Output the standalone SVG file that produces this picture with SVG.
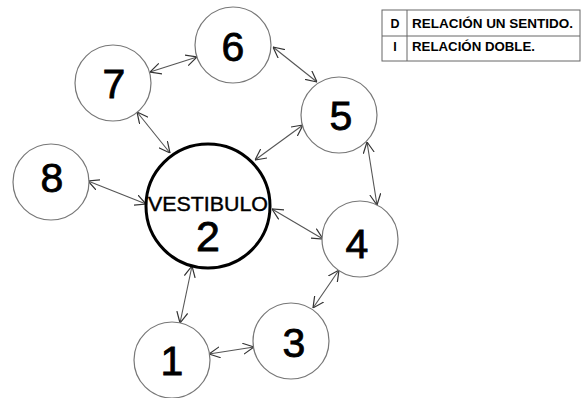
<svg xmlns="http://www.w3.org/2000/svg" width="581" height="398" viewBox="0 0 581 398">
<style>
.n{fill:#fff;stroke:#777;stroke-width:1.2}
.m{fill:#fff;stroke:#000;stroke-width:3}
.d{font-family:"Liberation Sans",Arial,sans-serif;font-size:41px;fill:#000;stroke:#000;stroke-width:0.8;text-anchor:middle}
.c line{stroke:#555;stroke-width:1.1;marker-start:url(#a);marker-end:url(#a)}
.l{font-family:"Liberation Sans",Arial,sans-serif;font-size:12.5px;font-weight:bold;fill:#000}
</style>
<defs>
<marker id="a" viewBox="0 0 11 12" refX="11" refY="6" markerWidth="11" markerHeight="12" markerUnits="userSpaceOnUse" orient="auto-start-reverse">
<path d="M0,0.5 L11,6 L0,11.5" fill="none" stroke="#333" stroke-width="1.2"/>
</marker>
</defs>
<g id="legend">
<rect x="382" y="10" width="198" height="51" fill="#fff" stroke="#666" stroke-width="1"/>
<line x1="382" y1="36" x2="580" y2="36" stroke="#666" stroke-width="1"/>
<line x1="407" y1="10" x2="407" y2="61" stroke="#666" stroke-width="1"/>
<text class="l" x="395" y="28" text-anchor="middle">D</text>
<text class="l" x="412" y="28" textLength="161" lengthAdjust="spacingAndGlyphs">RELACIÓN UN SENTIDO.</text>
<text class="l" x="395" y="51" text-anchor="middle">I</text>
<text class="l" x="412" y="51" textLength="123" lengthAdjust="spacingAndGlyphs">RELACIÓN DOBLE.</text>
</g>
<g class="c" id="connectors">
<line x1="150" y1="72" x2="197" y2="57"/>
<line x1="273" y1="47" x2="317" y2="82"/>
<line x1="137" y1="112" x2="170" y2="153"/>
<line x1="303" y1="125" x2="255" y2="160"/>
<line x1="367" y1="142" x2="377" y2="205"/>
<line x1="272" y1="209" x2="323" y2="239"/>
<line x1="339" y1="270" x2="313" y2="308"/>
<line x1="88" y1="181" x2="146" y2="204"/>
<line x1="192" y1="266" x2="180" y2="323"/>
<line x1="209" y1="354" x2="254" y2="347"/>
</g>
<g id="n7"><circle class="n" cx="113" cy="83" r="38"/><text class="d" x="114" y="98">7</text></g>
<g id="n6"><circle class="n" cx="233" cy="45" r="38"/><text class="d" x="233" y="61">6</text></g>
<g id="n5"><circle class="n" cx="339" cy="115" r="38"/><text class="d" x="341" y="130">5</text></g>
<g id="n4"><circle class="n" cx="360" cy="239" r="38"/><text class="d" x="357" y="258">4</text></g>
<g id="n3"><circle class="n" cx="291" cy="341" r="38"/><text class="d" x="294" y="357">3</text></g>
<g id="n1"><circle class="n" cx="172" cy="360" r="38"/><text class="d" x="172" y="375">1</text></g>
<g id="n8"><circle class="n" cx="51" cy="182" r="38"/><text class="d" x="52" y="192">8</text></g>
<g id="n2"><circle class="m" cx="208" cy="206" r="62"/>
<text x="208" y="211" text-anchor="middle" textLength="120" lengthAdjust="spacingAndGlyphs" style="font-family:'Liberation Sans',Arial,sans-serif;font-size:20px;stroke:#000;stroke-width:0.4">VESTIBULO</text>
<text class="d" x="208" y="251" style="font-size:43px">2</text></g>
</svg>
